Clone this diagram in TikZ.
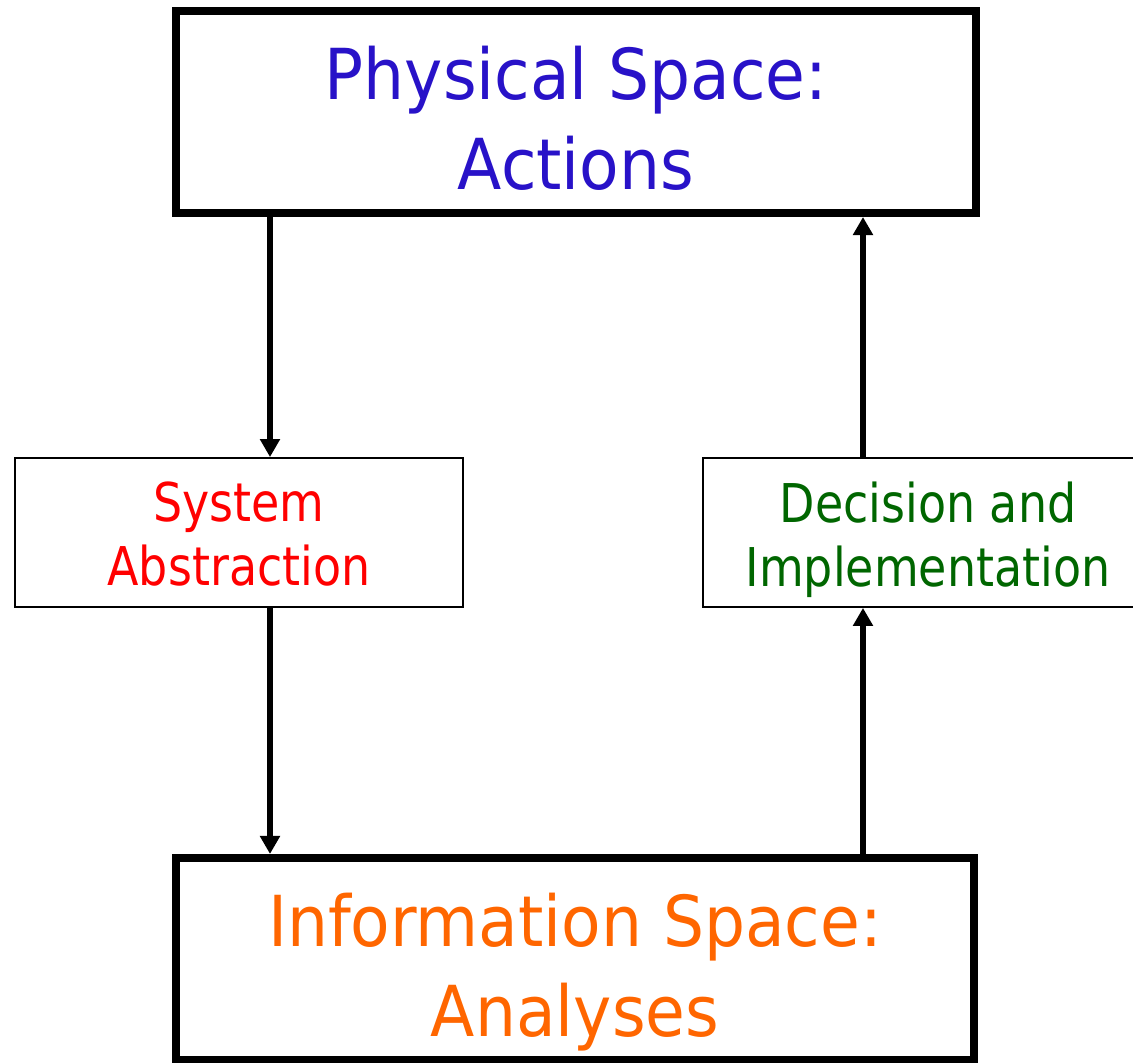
\documentclass[tikz,border=0pt]{standalone}
\usepackage{fontspec}
\setmainfont{DejaVu Sans}
\usetikzlibrary{arrows.meta}

\definecolor{physblue}{RGB}{40,18,200}
\definecolor{absred}{RGB}{255,0,0}
\definecolor{decgreen}{RGB}{0,102,0}
\definecolor{infoorange}{RGB}{255,102,0}

% narrowed lines, drawn a little lower than they are set
\newcommand{\bigline}[1]{\scalebox{0.92}[1]{\raisebox{-3.8pt}[\height][0pt]{#1}}}
\newcommand{\smallline}[1]{\scalebox{0.86}[1]{\raisebox{-1pt}[\height][0pt]{#1}}}

\tikzset{
  bigbox/.style={draw, line width=0.2cm, inner sep=0, align=center,
    minimum width=20cm, minimum height=5.05cm,
    font=\fontsize{50}{64}\selectfont},
  smallbox/.style={draw, line width=0.05cm, inner sep=0, align=center,
    minimum width=11.2cm, minimum height=3.72cm,
    font=\fontsize{38}{45.5}\selectfont},
  flow/.style={-{Triangle[length=0.45cm, width=0.48cm]}, line width=0.13cm}
}

\begin{document}
\begin{tikzpicture}[x=0.025cm, y=-0.025cm]

\useasboundingbox (0, 0) rectangle (1133, 1063);

% Spaces
\node[bigbox, text=physblue] (phys) at (576, 112) {\bigline{Physical Space:}\\\bigline{Actions}};
\node[bigbox, text=infoorange, minimum width=19.95cm] (info) at (575, 959) {\bigline{Information Space:}\\\bigline{Analyses}};

% Steps
\node[smallbox, text=absred] (abs) at (239, 532.5) {\smallline{System}\\\smallline{Abstraction}};
\node[smallbox, text=decgreen, minimum width=11.25cm] (dec) at (928, 532.5) {\smallline{Decision and}\\\smallline{Implementation}};

% Arrow columns
\coordinate (lx) at (270, 0);
\coordinate (rx) at (863, 0);

% Arrows
\draw[flow] (phys.south -| lx) -- (abs.north -| lx);
\draw[flow] (abs.south -| lx) -- (info.north -| lx);

\draw[flow] (info.north -| rx) -- (dec.south -| rx);
\draw[flow] (dec.north -| rx) -- (phys.south -| rx);

\end{tikzpicture}
\end{document}
